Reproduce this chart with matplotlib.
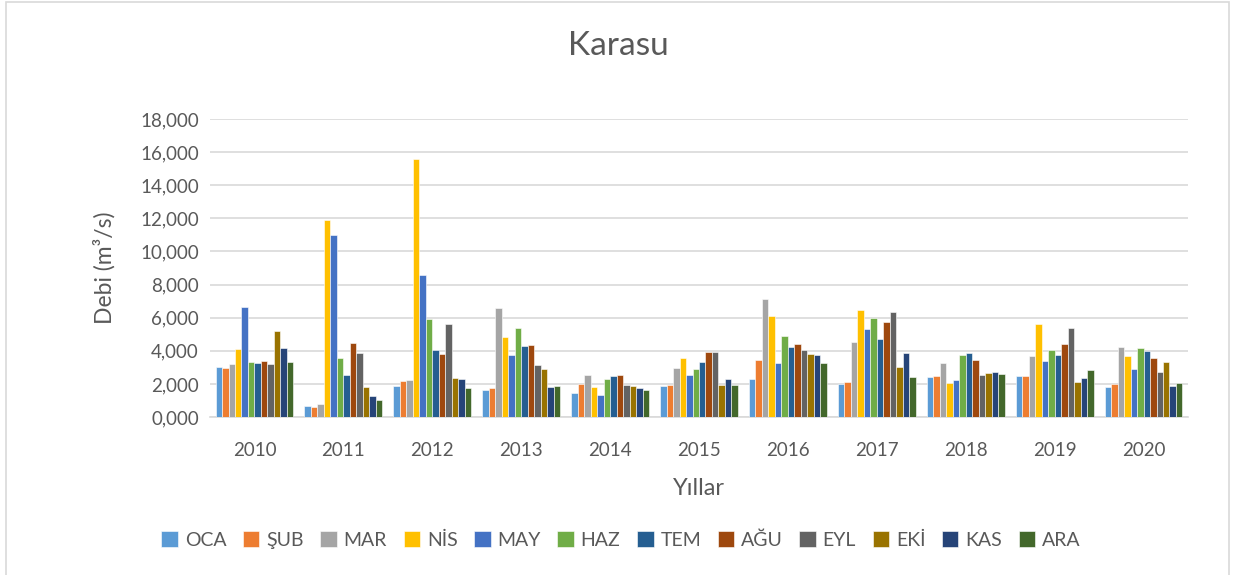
import numpy as np
import matplotlib.pyplot as plt
from matplotlib.patches import Rectangle

years = ["2010", "2011", "2012", "2013", "2014", "2015", "2016", "2017", "2018", "2019", "2020"]
months = ["OCA", "ŞUB", "MAR", "NİS", "MAY", "HAZ", "TEM", "AĞU", "EYL", "EKİ", "KAS", "ARA"]
colors = ["#5B9BD5", "#ED7D31", "#A5A5A5", "#FFC000", "#4472C4", "#70AD47",
          "#255E91", "#9E480E", "#636363", "#997300", "#264478", "#43682B"]

# debi values per year, one entry per month (OCA..ARA)
y2010 = [3.02, 2.98, 3.22, 4.09, 6.63, 3.32, 3.24, 3.40, 3.22, 5.20, 4.15, 3.34]
y2011 = [0.66, 0.60, 0.80, 11.88, 10.98, 3.56, 2.52, 4.49, 3.89, 1.79, 1.27, 1.00]
y2012 = [1.87, 2.15, 2.22, 15.57, 8.60, 5.94, 4.05, 3.79, 5.60, 2.34, 2.28, 1.75]
y2013 = [1.63, 1.75, 6.57, 4.81, 3.77, 5.38, 4.27, 4.33, 3.12, 2.88, 1.79, 1.87]
y2014 = [1.43, 1.97, 2.54, 1.81, 1.35, 2.32, 2.48, 2.52, 1.91, 1.85, 1.75, 1.61]
y2015 = [1.85, 1.93, 2.96, 3.54, 2.52, 2.90, 3.30, 3.91, 3.93, 1.93, 2.32, 1.95]
y2016 = [2.28, 3.42, 7.11, 6.08, 3.28, 4.87, 4.25, 4.43, 4.05, 3.81, 3.77, 3.24]
y2017 = [1.99, 2.09, 4.53, 6.47, 5.30, 6.00, 4.69, 5.76, 6.32, 3.00, 3.85, 2.40]
y2018 = [2.40, 2.46, 3.24, 2.03, 2.24, 3.75, 3.85, 3.46, 2.56, 2.64, 2.70, 2.62]
y2019 = [2.48, 2.46, 3.69, 5.64, 3.36, 4.03, 3.77, 4.43, 5.36, 2.09, 2.38, 2.86]
y2020 = [1.81, 1.99, 4.25, 3.67, 2.92, 4.19, 4.01, 3.56, 2.72, 3.30, 1.87, 2.05]

data = np.array([y2010, y2011, y2012, y2013, y2014, y2015,
                 y2016, y2017, y2018, y2019, y2020])

plt.rcParams['font.family'] = ['Lato', 'DejaVu Sans']
TXT = "#595959"

fig = plt.figure(figsize=(12.45, 5.75), dpi=100)
ax = fig.add_axes([210 / 1245, 1 - 417 / 575, 978 / 1245, 298 / 575])

# chart border
fig.patches.append(Rectangle((6 / 1245, -0.01), 1223 / 1245, 1 - 2 / 575 + 0.01,
                             transform=fig.transFigure, fill=False,
                             edgecolor="#D9D9D9", linewidth=1.2))

x = np.arange(len(years))
group = 0.875
w = group / len(months)
for i, m in enumerate(months):
    ax.bar(x - group / 2 + w * (i + 0.5), data[:, i], width=w, color=colors[i],
           edgecolor="white", linewidth=0.4, label=m, zorder=3)

ax.set_xlim(-0.5, len(years) - 0.5)
ax.set_ylim(0, 18)
ax.set_yticks(np.arange(0, 19, 2))
ax.set_yticklabels([f"{v:.3f}".replace(".", ",") for v in np.arange(0, 19, 2)])
ax.set_xticks(x)
ax.set_xticklabels(years)
ax.tick_params(axis="both", length=0, labelsize=13.5, labelcolor=TXT)
ax.tick_params(axis="x", pad=18)
ax.tick_params(axis="y", pad=8)

ax.grid(axis="y", color="#D9D9D9", linewidth=1.2, zorder=0)
for s in ["top", "right", "left"]:
    ax.spines[s].set_visible(False)
ax.spines["bottom"].set_color("#D9D9D9")
ax.spines["bottom"].set_linewidth(1.2)

ax.set_ylabel("Debi (m³/s)", fontsize=16.5, color=TXT, labelpad=18)
ax.set_xlabel("Yıllar", fontsize=17, color=TXT, labelpad=14)
fig.text(618 / 1245, 1 - 46 / 575, "Karasu", ha="center", va="center",
         fontsize=24, color=TXT)

ax.legend(loc="center", bbox_to_anchor=(621 / 1245, 1 - 540 / 575),
          bbox_transform=fig.transFigure, ncol=12, frameon=False,
          fontsize=14, labelcolor=TXT, handlelength=0.85, handleheight=0.85,
          handletextpad=0.35, columnspacing=0.85)

fig.savefig("out.png", dpi=100)
